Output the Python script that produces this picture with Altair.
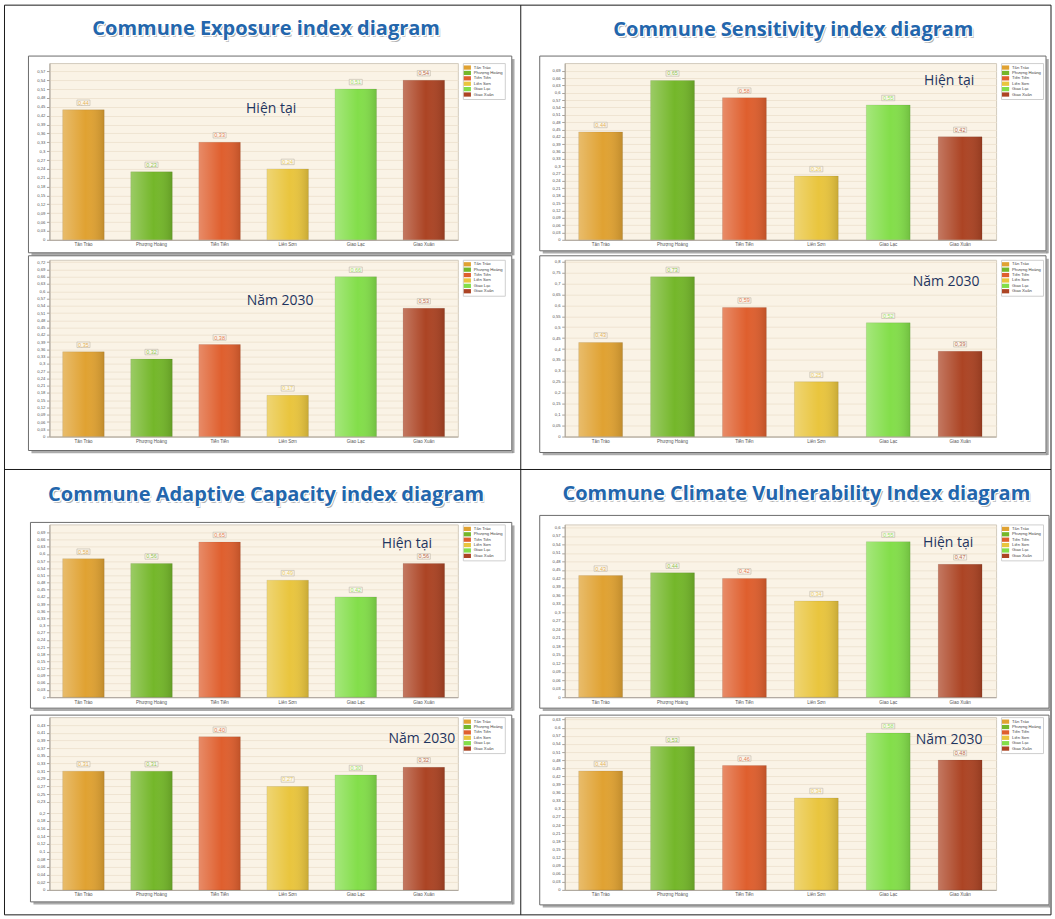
import altair as alt
import pandas as pd

# Communes shown on every panel, in axis order, with their bar colours
communes = ["Tân Trào", "Phượng Hoàng", "Tiến Tiến", "Liên Sơn", "Giao Lạc", "Giao Xuân"]
commune_colors = ["#E0A232", "#74B72A", "#DF5F2E", "#E9C53E", "#83DE4A", "#AC4424"]

# Index values per commune (current situation and 2030 projection)
exposure_now = [0.44, 0.23, 0.33, 0.24, 0.51, 0.54]
exposure_2030 = [0.35, 0.32, 0.38, 0.17, 0.66, 0.53]
sensitivity_now = [0.44, 0.65, 0.58, 0.26, 0.55, 0.42]
sensitivity_2030 = [0.43, 0.73, 0.59, 0.25, 0.52, 0.39]
adaptive_now = [0.58, 0.56, 0.65, 0.49, 0.42, 0.56]
adaptive_2030 = [0.31, 0.31, 0.40, 0.27, 0.30, 0.32]
vulnerability_now = [0.43, 0.44, 0.42, 0.34, 0.55, 0.47]
vulnerability_2030 = [0.44, 0.53, 0.46, 0.34, 0.58, 0.48]

section_titles = [
    "Commune Exposure index diagram",
    "Commune Sensitivity index diagram",
    "Commune Adaptive Capacity index diagram",
    "Commune Climate Vulnerability Index diagram",
]
period_labels = ["Hiện tại", "Năm 2030"]

# y-axis tick labels of each panel
ticks_057 = [0, 0.03, 0.06, 0.09, 0.12, 0.15, 0.18, 0.21, 0.24, 0.27, 0.3,
             0.33, 0.36, 0.39, 0.42, 0.45, 0.48, 0.51, 0.54, 0.57]
ticks_060 = ticks_057 + [0.6]
ticks_063 = ticks_060 + [0.63]
ticks_069 = ticks_063 + [0.66, 0.69]
ticks_072 = ticks_069 + [0.72]
ticks_080 = [0, 0.05, 0.1, 0.15, 0.2, 0.25, 0.3, 0.35, 0.4, 0.45, 0.5,
             0.55, 0.6, 0.65, 0.7, 0.75, 0.8]
ticks_043 = [0, 0.02, 0.04, 0.06, 0.08, 0.1, 0.12, 0.14, 0.16, 0.18, 0.2,
             0.23, 0.25, 0.27, 0.29, 0.31, 0.33, 0.35, 0.37, 0.39, 0.41, 0.43]

W_LEFT, W_RIGHT = 409, 432
ROW_GAP, COL_GAP = 20, 107

comma = "replace(format(datum.value, '.2~f'), '.', ',')"
one_row = pd.DataFrame({"k": [0]})

bar_shine = alt.LinearGradient(
    gradient="linear", x1=0, x2=1, y1=0, y2=0,
    stops=[
        alt.GradientStop(offset=0, color="rgba(255,255,255,0.28)"),
        alt.GradientStop(offset=0.55, color="rgba(255,255,255,0.0)"),
        alt.GradientStop(offset=1, color="rgba(0,0,0,0.14)"),
    ],
)

box_path = "M-1,-0.42L1,-0.42L1,0.42L-1,0.42Z"
swatch_path = "M-1.7,-1L1.7,-1L1.7,1L-1.7,1Z"


def panel(values, ymax, ticks, width, height, label, lx, ly, frame):
    fx0, fx1, fy0, fy1 = frame
    df = pd.DataFrame({"commune": communes, "value": values})
    df["txt"] = [f"{v:.2f}".replace(".", ",") for v in values]

    base = alt.Chart(df).encode(
        x=alt.X(
            "commune:N", sort=communes,
            scale=alt.Scale(domain=communes, paddingInner=0.39, paddingOuter=0.195),
            axis=alt.Axis(title=None, labelAngle=0, labelFontSize=4.5, labelColor="#555555",
                          labelPadding=2, tickSize=0, domainColor="#a9a29a", grid=False),
        ),
        y=alt.Y(
            "value:Q",
            scale=alt.Scale(domain=[0, ymax], nice=False, zero=True),
            axis=alt.Axis(title=None, values=ticks, labelExpr=comma, labelFontSize=4.2,
                          labelColor="#555555", labelPadding=1.5, tickSize=3,
                          tickColor="#a9a29a", domainColor="#a9a29a",
                          gridColor="#efe4d2", gridWidth=1),
        ),
    )
    color = alt.Color(
        "commune:N",
        scale=alt.Scale(domain=communes, range=commune_colors),
        legend=alt.Legend(title=None, orient="right", offset=5, padding=2,
                          fillColor="#ffffff", strokeColor="#cfcfcf",
                          symbolType=swatch_path, symbolSize=18, symbolStrokeWidth=0,
                          labelFontSize=4.2, labelColor="#444444", labelOffset=4,
                          rowPadding=0.4, labelLimit=60),
    )
    bars = base.mark_bar(stroke="#00000022", strokeWidth=0.6).encode(color=color)
    shine = base.mark_bar(color=bar_shine)
    boxes = base.mark_point(shape=box_path, size=170, filled=True, fill="#fbf6ec",
                            stroke="#bdb5a6", strokeWidth=0.6, yOffset=-7, opacity=1)
    texts = base.mark_text(fontSize=5.5, dy=-7, baseline="middle", opacity=0.8,
                           font="Liberation Sans").encode(text="txt:N", color=color)

    deco = alt.Chart(one_row)
    frame_rect = deco.mark_rect(fillOpacity=0, stroke="#6b6b6b", strokeWidth=1).encode(
        x=alt.value(fx0), x2=alt.value(width + fx1), y=alt.value(fy0), y2=alt.value(height + fy1))
    shadow_b = deco.mark_rule(stroke="#8f8f8f", strokeWidth=2.5, opacity=0.75).encode(
        x=alt.value(fx0 + 3), x2=alt.value(width + fx1 + 1.5), y=alt.value(height + fy1 + 1.5))
    shadow_r = deco.mark_rule(stroke="#8f8f8f", strokeWidth=2.5, opacity=0.75).encode(
        x=alt.value(width + fx1 + 1.5), y=alt.value(fy0 + 3), y2=alt.value(height + fy1 + 2.5))
    note = deco.mark_text(text=label, font="Open Sans", fontSize=14, color="#1F3560",
                          baseline="middle").encode(x=alt.value(lx), y=alt.value(ly))

    return alt.layer(shadow_b, shadow_r, frame_rect, bars, shine, boxes, texts, note).properties(
        width=width, height=height,
        view=alt.ViewBackground(fill="#FAF3E6", stroke="#d3cbbd", strokeWidth=1),
    )


def title_view(text, width, height, tx, ty, table=False):
    d = alt.Chart(pd.DataFrame({"t": [text]}))
    common = dict(font="Open Sans", fontWeight="bold", fontSize=20, baseline="middle")
    shadow = d.mark_text(color="#6f6f6f", opacity=0.55, dx=1.6, dy=1.8, **common).encode(
        x=alt.value(tx), y=alt.value(ty), text="t:N")
    glow = d.mark_text(color="#ffffff", stroke="#ffffff", strokeWidth=2.5, **common).encode(
        x=alt.value(tx), y=alt.value(ty), text="t:N")
    main = d.mark_text(color="#2366AC", **common).encode(
        x=alt.value(tx), y=alt.value(ty), text="t:N")
    layers = [shadow, glow, main]
    if table:
        deco = alt.Chart(one_row)
        layers += [
            deco.mark_rect(fillOpacity=0, stroke="#1a1a1a", strokeWidth=1).encode(
                x=alt.value(-45), x2=alt.value(1003), y=alt.value(-1), y2=alt.value(910)),
            deco.mark_rule(stroke="#1a1a1a", strokeWidth=1).encode(
                x=alt.value(472), y=alt.value(-1), y2=alt.value(910)),
            deco.mark_rule(stroke="#1a1a1a", strokeWidth=1).encode(
                x=alt.value(-45), x2=alt.value(1003), y=alt.value(464)),
        ]
    return alt.layer(*layers).properties(
        width=width, height=height,
        view=alt.ViewBackground(fill="transparent", stroke="transparent"),
    )


views = [
    title_view(section_titles[0], W_LEFT, 37, 217, 23, table=True),
    title_view(section_titles[1], W_RIGHT, 37, 229, 24),
    panel(exposure_now, 0.598, ticks_057, W_LEFT, 177, period_labels[0], 222, 46, (-21, 54, -7, 13)),
    panel(sensitivity_now, 0.721, ticks_069, W_RIGHT, 177, period_labels[0], 385, 18, (-25, 50, -7, 11)),
    panel(exposure_2030, 0.73, ticks_072, W_LEFT, 177, period_labels[1], 231, 41, (-21, 54, -4, 14)),
    panel(sensitivity_2030, 0.808, ticks_080, W_RIGHT, 177, period_labels[1], 382, 22, (-25, 50, -4, 16)),
    title_view(section_titles[2], W_LEFT, 48, 217, 39),
    title_view(section_titles[3], W_RIGHT, 48, 232, 38),
    panel(adaptive_now, 0.7235, ticks_069, W_LEFT, 173, period_labels[0], 358, 20, (-19, 54, -2, 11)),
    panel(vulnerability_now, 0.611, ticks_060, W_RIGHT, 173, period_labels[0], 384, 19, (-25, 53, -9, 11)),
    panel(adaptive_2030, 0.451, ticks_043, W_LEFT, 173, period_labels[1], 373, 22, (-19, 54, -2, 12)),
    panel(vulnerability_2030, 0.639, ticks_063, W_RIGHT, 173, period_labels[1], 385, 23, (-25, 53, -2, 15)),
]

chart = (
    alt.concat(*views, columns=2, bounds="flush", align="each",
               spacing={"row": ROW_GAP, "column": COL_GAP})
    .resolve_scale(x="independent", y="independent", color="independent")
    .resolve_legend(color="independent")
    .properties(padding={"left": 3.5, "top": 3.5, "right": 2, "bottom": 2},
                background="#ffffff")
    .configure_axis(labelFont="Liberation Sans")
    .configure_legend(labelFont="Liberation Sans")
)

chart.save("out.html", embed_options={"renderer": "svg", "actions": False})
